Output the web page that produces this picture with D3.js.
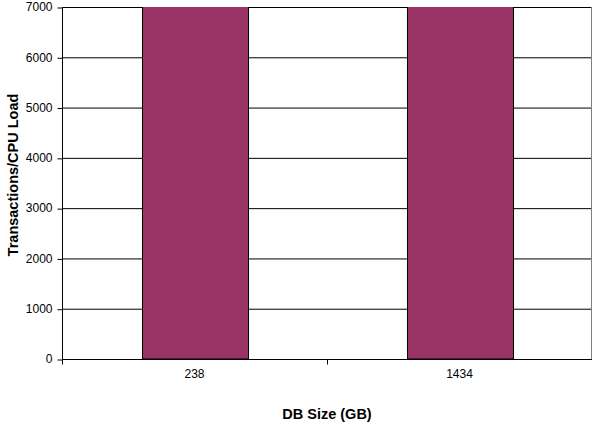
<!DOCTYPE html>
<html>
<head>
<meta charset="utf-8">
<script src="https://cdn.jsdelivr.net/npm/d3@7"></script>
<style>
  body { margin: 0; background: #fff; }
  text { font-family: Arial, "Liberation Sans", sans-serif; }
</style>
</head>
<body>
<div id="chart"></div>
<script>
// DB size categories and throughput (both bars run past the axis top)
const dbSizes = ["238", "1434"];
const txPerCpu = [7600, 7600];
const yTicks = [0, 1000, 2000, 3000, 4000, 5000, 6000, 7000];

const W = 597, H = 428;
const margin = { top: 7, right: 5, bottom: 69, left: 62 };
const innerW = W - margin.left - margin.right;
const innerH = H - margin.top - margin.bottom;

const svg = d3.select("#chart").append("svg").attr("width", W).attr("height", H);
const g = svg.append("g").attr("transform", `translate(${margin.left},${margin.top})`);

const x = d3.scaleBand().domain(dbSizes).range([0, innerW]).paddingInner(0.6).paddingOuter(0.3);
const xBand = d3.scaleBand().domain(dbSizes).range([0, innerW]);
const y = d3.scaleLinear().domain([0, 7000]).range([innerH, 0]);

// gridlines
g.append("g")
  .selectAll("line")
  .data(yTicks.slice(1))
  .join("line")
  .attr("x1", 0).attr("x2", innerW)
  .attr("y1", (d) => y(d) + 0.5).attr("y2", (d) => y(d) + 0.5)
  .attr("stroke", "#000");

// right border
g.append("line")
  .attr("x1", innerW - 0.5).attr("x2", innerW - 0.5)
  .attr("y1", 0).attr("y2", innerH)
  .attr("stroke", "#808080");

g.append("clipPath").attr("id", "clip")
  .append("rect").attr("x", 0).attr("y", 0).attr("width", innerW).attr("height", innerH + 1);

g.append("g").attr("clip-path", "url(#clip)")
  .selectAll("rect")
  .data(dbSizes.map((k, i) => ({ k, v: txPerCpu[i] })))
  .join("rect")
  .attr("x", (d) => Math.round(x(d.k)) + 0.5)
  .attr("width", Math.round(x.bandwidth()))
  .attr("y", (d) => y(d.v))
  .attr("height", (d) => y(0) - y(d.v))
  .attr("fill", "#993366")
  .attr("stroke", "#000");

// y axis
g.append("g")
  .attr("transform", "translate(0.5,0)")
  .call(d3.axisLeft(y).tickValues(yTicks).tickSize(5).tickPadding(5).tickFormat(d3.format("d")))
  .call((a) => a.select(".domain").attr("d", `M0,0V${innerH + 0.5}`))
  .call((a) => a.selectAll(".tick line").attr("transform", "translate(0,0.5)"))
  .call((a) => a.selectAll(".tick text").attr("font-size", "12px").attr("fill", "#000").attr("font-family", "Arial, 'Liberation Sans', sans-serif"));

// x axis: category ticks at band boundaries
const xAxis = g.append("g").attr("transform", `translate(0,${innerH + 0.5})`);
xAxis.append("line").attr("x1", 0).attr("x2", innerW).attr("stroke", "#000");
xAxis.selectAll(".sep")
  .data([0, ...dbSizes.slice(1).map((k) => xBand(k))])
  .join("line")
  .attr("class", "sep")
  .attr("x1", (d) => Math.round(d) + 0.5).attr("x2", (d) => Math.round(d) + 0.5)
  .attr("y1", 0).attr("y2", 5)
  .attr("stroke", "#000");
xAxis.selectAll(".lbl")
  .data(dbSizes)
  .join("text")
  .attr("class", "lbl")
  .attr("x", (d) => xBand(d) + xBand.bandwidth() / 2)
  .attr("y", 18.5)
  .attr("text-anchor", "middle")
  .attr("font-size", "12px")
  .text((d) => d);

// axis titles
svg.append("text")
  .attr("x", margin.left + innerW / 2)
  .attr("y", 419)
  .attr("text-anchor", "middle")
  .attr("font-size", "14.5px")
  .attr("font-weight", "bold")
  .text("DB Size (GB)");

svg.append("text")
  .attr("transform", "translate(18,175) rotate(-90)")
  .attr("text-anchor", "middle")
  .attr("font-size", "14.5px")
  .attr("font-weight", "bold")
  .text("Transactions/CPU Load");
</script>
</body>
</html>
